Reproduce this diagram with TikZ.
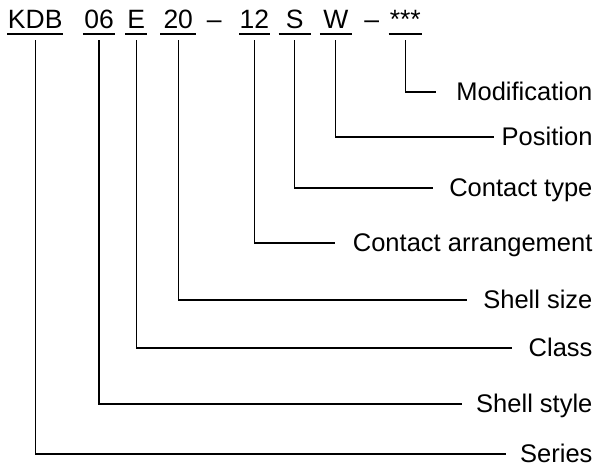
\documentclass[tikz,border=0pt]{standalone}
\usepackage{fontspec}
\setmainfont{Liberation Sans}
\usetikzlibrary{positioning}

\begin{document}
\begin{tikzpicture}[x=1pt,y=-1pt,line width=1.1pt,font=\fontsize{25.5}{30}\selectfont]
						\useasboundingbox (0,0) rectangle (598,470);
						\tikzstyle{code} = [rectangle, inner xsep=0pt, inner ysep=4.5pt, text depth=0pt, font=\fontsize{26.5}{30}\selectfont]
						\tikzstyle{sep} = [rectangle, inner sep=0pt, font=\fontsize{26.5}{30}\selectfont]
						\tikzstyle{field} = [rectangle, inner sep=0pt, text height=18pt, text depth=0pt, anchor=base east]
						% part number
						\node [code,anchor=base west](kdb) at (7.4,29) {KDB};
						\node [code,base right=20pt of kdb,minimum width=31pt](n06){06};
						\node [code,base right=10pt of n06,minimum width=21pt](e){E};
						\node [code,base right=13pt of e,minimum width=35pt](n20){20};
						\node [sep,base right=10pt of n20](dash1){--};
						\node [code,base right=17pt of dash1,minimum width=29pt](n12){12};
						\node [code,base right=9pt of n12,minimum width=31pt](s){S};
						\node [code,base right=9pt of s,minimum width=31pt](w){W};
						\node [sep,base right=12pt of w](dash2){--};
						\node [code,base right=9pt of dash2,minimum width=32pt](stars){***};
						% field names
						\node [field] (modification) at (593,101) {Modification};
						\node [field] (position) at (593,146) {Position};
						\node [field] (contacttype) at (593,197) {Contact type};
						\node [field] (arrangement) at (593,252) {Contact arrangement};
						\node [field] (shellsize) at (593,309) {Shell size};
						\node [field] (class) at (593,357) {Class};
						\node [field] (shellstyle) at (593,413) {Shell style};
						\node [field] (series) at (593,463) {Series};
						% underlines
						\draw (kdb.south west) -- (kdb.south east);
						\draw (n06.south west) -- (n06.south east);
						\draw (e.south west) -- (e.south east);
						\draw (n20.south west) -- (n20.south east);
						\draw (n12.south west) -- (n12.south east);
						\draw (s.south west) -- (s.south east);
						\draw (w.south west) -- (w.south east);
						\draw (stars.south west) -- (stars.south east);
						% leaders
						\draw [shorten <=6pt,shorten >=20pt] (stars.south) |- (modification.west);
						\draw [shorten <=6pt,shorten >=7pt] (w.south) |- (position.west);
						\draw [shorten <=6pt,shorten >=16pt] (s.south) |- (contacttype.west);
						\draw [shorten <=6pt,shorten >=17pt] (n12.south) |- (arrangement.west);
						\draw [shorten <=6pt,shorten >=16pt] (n20.south) |- (shellsize.west);
						\draw [shorten <=6pt,shorten >=16pt] (e.south) |- (class.west);
						\draw [shorten <=6pt,shorten >=14pt] (n06.south) |- (shellstyle.west);
						\draw [shorten <=6pt,shorten >=14pt] (kdb.south) |- (series.west);
					\end{tikzpicture}
\end{document}
